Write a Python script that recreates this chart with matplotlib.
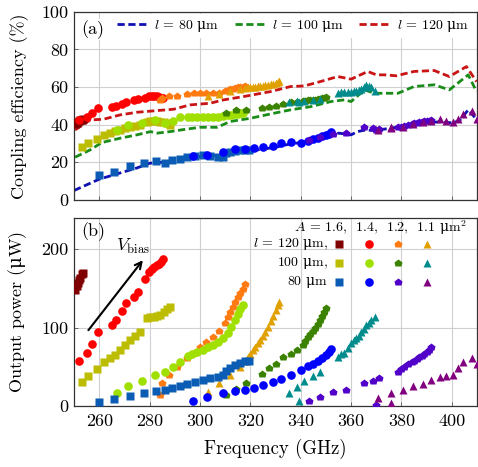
import matplotlib
matplotlib.use("Agg")
import matplotlib.pyplot as plt

plt.rcParams['font.family'] = ['cmr10', 'DejaVu Serif']
# math: italic from Computer Modern, upright (for the micro sign) from DejaVu Serif
plt.rcParams['mathtext.fontset'] = 'custom'
plt.rcParams['mathtext.it'] = 'cmmi10'
plt.rcParams['mathtext.rm'] = 'DejaVu Serif'
plt.rcParams['axes.formatter.use_mathtext'] = False
plt.rcParams['font.size'] = 13

UM = r'$\mathrm{\mu}$m'

# ---- simulated coupling efficiency (dashed lines, panel a)
sim_freq_l80 = [250, 255, 260, 265, 270, 275, 280, 285, 290, 295, 300, 305, 310, 315,
                320, 325, 330, 335, 340, 345, 350, 355, 360, 362.5, 365, 370, 375, 380,
                385, 390, 395, 400, 403, 406.5, 410]
sim_eff_l80 = [5, 8, 11, 13, 15, 17, 19.5, 20, 21, 22, 23, 23.5, 24, 25,
               26, 27, 28, 29.5, 30.5, 32, 34, 35.5, 34.6, 36.3, 37, 37, 38, 39,
               40, 41, 41.5, 41, 42, 47.9, 42.5]
sim_freq_l100 = [250.4, 256.4, 261, 268.3, 275, 280.3, 283, 288, 294, 300, 306.8, 312,
                 320, 328, 336, 344, 352, 357.3, 360, 365.3, 369.3, 372, 378.6, 385,
                 393, 399, 406.5, 409.8]
sim_eff_l100 = [22.7, 26.6, 30.5, 32.8, 34.6, 36.3, 35.5, 36.3, 37.5, 38.6, 38.6, 41.7,
                43.4, 45.7, 47.9, 49.6, 52.3, 53.2, 52.3, 58.5, 56.7, 56.7, 56.7, 60.3,
                61.2, 58.5, 66.5, 57.6]
sim_freq_l120 = [250.4, 256.4, 261.7, 268.3, 275, 283, 289.5, 296, 304, 309.4, 317.5,
                 328, 336, 341.4, 348, 354.7, 360, 366.6, 370, 373.2, 378, 385, 393,
                 399, 405.8, 409.8]
sim_eff_l120 = [37.2, 42.5, 42.9, 45.2, 46.6, 47.5, 48.2, 50.5, 51.4, 53.2, 55,
                57.6, 60.3, 60.6, 63, 65.6, 64.2, 68.3, 66.5, 66.5, 66, 68.3, 68.8,
                65.6, 70.9, 62.9]

# ---- measured data: frequency (GHz), coupling efficiency (%), output power (uW)
f_l120_a16 = [250.5, 251.0, 251.5, 252.0, 252.5, 253.0, 253.5]
e_l120_a16 = [40.5, 41, 41.5, 42, 42.5, 42.5, 43]
p_l120_a16 = [148, 153, 157, 161, 164, 168, 170]

f_l120_a14 = [252.0, 255.3, 257.3, 259.6, 264.9, 266.6, 269.0, 270.6, 273.9, 275.5,
              278.2, 279.9, 281.0, 281.9, 283.0, 283.9, 284.6, 285.2]
e_l120_a14 = [42.5, 44.3, 46.4, 48.8, 49.3, 50.0, 50.8, 52.0, 53.0, 53.5,
              54.2, 55.0, 55.2, 55.3, 55.0, 54.8, 54.4, 54.0]
p_l120_a14 = [58, 68, 79, 95, 103, 110, 121, 132, 139, 146,
              162, 171, 175, 178, 180, 181, 184, 188]

f_l120_a12 = [284.3, 284.9, 287.6, 290.9, 294.9, 297.5, 300.0, 302.5, 305.0, 307.5,
              310.0, 311.0, 312.0, 313.0, 314.0, 315.0, 316.0, 317.0, 318.0]
e_l120_a12 = [53.0, 54.0, 55.0, 55.0, 56.5, 56.7, 57.0, 56.7, 57.0, 57.0,
              58.0, 58.5, 59.0, 59.2, 59.5, 59.8, 60.0, 60.3, 60.5]
p_l120_a12 = [14, 29, 39, 50, 61, 68, 75, 82, 88, 96,
              106, 113, 120, 127, 133, 139, 144, 150, 156]

f_l120_a11 = [303.0, 307.5, 312.0, 316.0, 318.0, 319.0, 320.0, 321.0, 322.0, 323.0,
              324.0, 325.0, 326.0, 327.0, 328.0, 329.0, 330.0, 331.0, 331.5]
e_l120_a11 = [55.0, 56.5, 58.0, 59.0, 59.5, 59.8, 60.0, 60.2, 60.3, 60.5,
              60.6, 60.8, 61.0, 61.2, 61.4, 61.8, 62.2, 62.6, 63.0]
p_l120_a11 = [18, 30, 40, 50, 57, 62, 66, 71, 75, 80,
              84, 89, 95, 101, 108, 115, 122, 129, 133]

f_l100_a16 = [253.0, 255.7, 259.0, 261.7, 264.3, 266.3, 268.3, 270.3, 272.3, 274.3,
              276.3, 279.0, 280.3, 281.6, 283.0, 284.3, 285.6, 287.0, 288.2]
e_l100_a16 = [28.0, 30.0, 32.5, 34.5, 35.5, 36.5, 37.0, 38.0, 38.5, 39.5,
              40.0, 41.5, 41.8, 42.0, 41.8, 41.5, 41.2, 41.0, 40.0]
p_l100_a16 = [31, 38, 47, 56, 61, 65, 71, 78, 84, 89,
              95, 112, 113, 114, 115, 116, 120, 124, 127]

f_l100_a14 = [267.0, 271.6, 277.0, 282.0, 286.0, 289.3, 292.2, 295.3, 297.0, 299.0,
              301.0, 303.0, 305.0, 307.0, 309.0, 311.0, 312.5, 314.0, 315.0, 316.0, 317.0]
e_l100_a14 = [37.0, 40.0, 41.0, 42.5, 41.0, 42.0, 44.0, 44.3, 44.3, 44.3,
              44.3, 44.3, 44.2, 44.0, 44.5, 45.0, 45.2, 45.5, 45.8, 46.0, 46.0]
p_l100_a14 = [16, 25, 32, 40, 43.5, 50, 56, 64, 66, 69,
              72, 75, 78, 82, 87, 93, 101, 110, 117, 124, 129]

f_l100_a12 = [310.2, 314.1, 318.1, 324.8, 327.4, 330.0, 332.8, 336.0, 338.7, 340.7,
              341.7, 342.7, 343.7, 344.7, 345.7, 346.7, 347.6, 348.5, 349.3, 350.0]
e_l100_a12 = [46.0, 48.0, 48.0, 49.0, 49.5, 50.0, 51.0, 52.0, 52.0, 52.5,
              52.8, 53.0, 53.0, 53.0, 53.2, 53.5, 53.8, 54.0, 54.2, 54.5]
p_l100_a12 = [14, 22, 30, 41, 48, 53, 63, 67, 71, 78,
              83, 88, 92, 96, 100, 105, 110, 115, 120, 125]

f_l100_a11 = [335.4, 338.7, 339.4, 341.4, 344.7, 347.8, 354.6, 356.0, 357.3, 358.6,
              360.0, 361.0, 362.0, 363.0, 364.0, 365.0, 366.0, 367.0, 368.0, 369.3]
e_l100_a11 = [52.0, 52.5, 52.0, 52.5, 53.0, 53.5, 57.0, 57.2, 57.5, 57.5,
              57.5, 57.8, 58.0, 58.5, 59.0, 60.0, 61.0, 60.5, 60.0, 58.0]
p_l100_a11 = [17, 24, 6, 32, 38, 43, 63, 66, 68, 74,
              80, 84, 87, 90, 94, 98, 103, 106, 110, 114]

f_l80_a16 = [260.0, 266.0, 272.3, 277.6, 282.5, 286.0, 289.0, 292.0, 295.0, 298.0,
             301.0, 304.0, 307.0, 309.0, 310.5, 312.0, 314.0, 316.0, 318.0, 319.5]
e_l80_a16 = [13.0, 15.0, 18.0, 19.5, 20.5, 19.5, 21.0, 22.0, 23.0, 23.5,
             24.0, 23.5, 23.0, 23.0, 25.0, 25.5, 26.0, 26.5, 26.5, 26.5]
p_l80_a16 = [5, 9.5, 13, 16, 19, 21, 23, 25.5, 28, 31, 33, 35.5, 37, 39, 45, 49, 52, 55, 57, 58]

f_l80_a14 = [297.3, 302.9, 309.0, 314.0, 318.0, 321.5, 325.0, 328.8, 332.0, 336.0,
             340.0, 342.7, 344.7, 346.7, 348.4, 350.0, 351.2, 352.0]
e_l80_a14 = [23.5, 24.0, 25.5, 27.0, 27.0, 27.5, 28.0, 28.5, 30.0, 31.0,
             30.5, 31.5, 32.2, 33.0, 33.8, 34.5, 35.2, 36.0]
p_l80_a14 = [6, 11, 16, 19, 21, 23.5, 26.5, 30.5, 35, 40,
             45.5, 51, 54, 58, 61, 65, 69, 73]

f_l80_a12 = [343.3, 347.7, 353.0, 358.0, 365.0, 368.6, 370.0, 371.2, 378.6, 379.8,
             381.0, 382.5, 384.0, 385.0, 386.0, 387.0, 388.0, 389.0, 390.0, 391.0, 391.8]
e_l80_a12 = [32.0, 33.5, 35.0, 35.5, 39.0, 38.0, 37.0, 37.5, 38.5, 39.0,
             39.5, 40.0, 40.5, 40.8, 41.0, 41.2, 41.5, 41.8, 42.0, 42.2, 42.5]
p_l80_a12 = [7, 12, 18, 21, 29, 32.5, 1, 35.5, 43.5, 47,
             50, 53, 56, 58, 60, 62, 64, 66, 69, 72, 75]

f_l80_a11 = [370.8, 375.9, 375.9, 380.5, 384.5, 388.5, 391.8, 395.2, 397.8, 400.5,
             402.4, 404.4, 407.8, 409.8]
e_l80_a11 = [37.0, 38.0, 39.0, 38.5, 40.5, 41.5, 42.0, 43.0, 42.0, 41.5,
             43.0, 45.5, 47.5, 43.0]
p_l80_a11 = [10, 4, 16, 20, 25.5, 28.5, 33, 37, 38.5, 40, 48, 56, 61, 54]

# style per device (order = drawing order)
series = [
    (f_l120_a16, e_l120_a16, p_l120_a16, '#7f0000', 's', 5.5),
    (f_l120_a14, e_l120_a14, p_l120_a14, '#ff0000', 'o', 6.2),
    (f_l120_a12, e_l120_a12, p_l120_a12, '#ff7a10', 'p', 6.2),
    (f_l120_a11, e_l120_a11, p_l120_a11, '#e0a000', '^', 5.8),
    (f_l100_a16, e_l100_a16, p_l100_a16, '#bcbc00', 's', 5.5),
    (f_l100_a14, e_l100_a14, p_l100_a14, '#a0e000', 'o', 6.2),
    (f_l100_a12, e_l100_a12, p_l100_a12, '#3a8200', 'p', 6.2),
    (f_l100_a11, e_l100_a11, p_l100_a11, '#008c8c', '^', 5.8),
    (f_l80_a16, e_l80_a16, p_l80_a16, '#0a5cb4', 's', 5.5),
    (f_l80_a14, e_l80_a14, p_l80_a14, '#0000ff', 'o', 6.2),
    (f_l80_a12, e_l80_a12, p_l80_a12, '#5000c8', 'p', 6.2),
    (f_l80_a11, e_l80_a11, p_l80_a11, '#800080', '^', 5.8),
]

fig = plt.figure(figsize=(4.78, 4.67), dpi=100)
ax1 = fig.add_axes([0.155, 0.572, 0.843, 0.4026])
ax2 = fig.add_axes([0.155, 0.1306, 0.843, 0.4026])

for ax in (ax1, ax2):
    ax.set_xlim(250, 410)
    ax.set_xticks([260, 280, 300, 320, 340, 360, 380, 400])
    ax.grid(True, color='#d0d0d0', lw=0.8)
    ax.set_axisbelow(True)
    ax.tick_params(direction='in', length=3, width=0.6, color='#555555', labelsize=13)
    ax.tick_params(axis='x', pad=5.5)
    ax.tick_params(axis='y', pad=4)
    for sp in ax.spines.values():
        sp.set_linewidth(0.9)
        sp.set_color('#333333')

# panel (a)
dash = (0, (2.6, 1.3))
ax1.plot(sim_freq_l80, sim_eff_l80, color='#1010b4', lw=2.0, ls=dash,
         label=r'$l$ = 80 ' + UM, zorder=2)
ax1.plot(sim_freq_l100, sim_eff_l100, color='#1a8c1a', lw=2.0, ls=dash,
         label=r'$l$ = 100 ' + UM, zorder=2)
ax1.plot(sim_freq_l120, sim_eff_l120, color='#c81414', lw=2.0, ls=dash,
         label=r'$l$ = 120 ' + UM, zorder=2)
for f, e, p, c, m, ms in series:
    ax1.plot(f, e, ls='none', marker=m, ms=ms, color=c, mec='none', zorder=3)
ax1.set_ylim(0, 100)
ax1.set_yticks([0, 20, 40, 60, 80, 100])
ax1.set_xticklabels([])
ax1.set_ylabel('Coupling efficiency (%)', fontsize=13, labelpad=9)
leg = ax1.legend(loc='upper right', bbox_to_anchor=(0.995, 1.0), ncol=3,
                 frameon=True, facecolor='white', edgecolor='none', framealpha=1,
                 handlelength=2.3, handletextpad=0.4, columnspacing=1.1,
                 borderaxespad=0.15, borderpad=0.3, fontsize=10)
leg.set_zorder(5)
ax1.text(0.018, 0.955, '(a)', transform=ax1.transAxes, ha='left', va='top',
         fontsize=13, bbox=dict(facecolor='white', edgecolor='none', pad=1.0), zorder=10)

# panel (b)
for f, e, p, c, m, ms in series:
    ax2.plot(f, p, ls='none', marker=m, ms=ms, color=c, mec='none', zorder=3)
ax2.set_ylim(0, 240)
ax2.set_yticks([0, 100, 200])
ax2.set_ylabel('Output power (' + r'$\mathrm{\mu}$' + 'W)', fontsize=13, labelpad=9)
ax2.set_xlabel('Frequency (GHz)', fontsize=13.5, labelpad=7)
ax2.text(0.018, 0.975, '(b)', transform=ax2.transAxes, ha='left', va='top',
         fontsize=13, zorder=5)
ax2.annotate('', xy=(278, 189), xytext=(255, 94),
             arrowprops=dict(arrowstyle='->', color='black', lw=1.5,
                             mutation_scale=12), zorder=4)
ax2.text(273.5, 204, r'$V_{\mathregular{bias}}$', ha='center', va='center', fontsize=13)

# legend grid for panel (b)
ax2.text(0.975, 0.948, r'$A$ = 1.6,  1.4,  1.2,  1.1 ' + r'$\mathrm{\mu}$m$^{\mathregular{2}}$',
         transform=ax2.transAxes, ha='right', va='center', fontsize=10)
row_y = [0.862, 0.759, 0.658]
row_txt = [r'$l$ = 120 ' + UM + ',', '100 ' + UM + ',', '80 ' + UM]
col_x = [0.658, 0.733, 0.804, 0.875]
for i in range(3):
    ax2.text(0.630, row_y[i], row_txt[i], transform=ax2.transAxes, ha='right',
             va='center', fontsize=10)
    for j in range(4):
        f, e, p, c, m, ms = series[i * 4 + j]
        ax2.plot([col_x[j]], [row_y[i]], transform=ax2.transAxes, ls='none',
                 marker=m, ms=ms, color=c, mec='none', clip_on=False)

fig.align_ylabels([ax1, ax2])
fig.savefig('out.png', dpi=100)
